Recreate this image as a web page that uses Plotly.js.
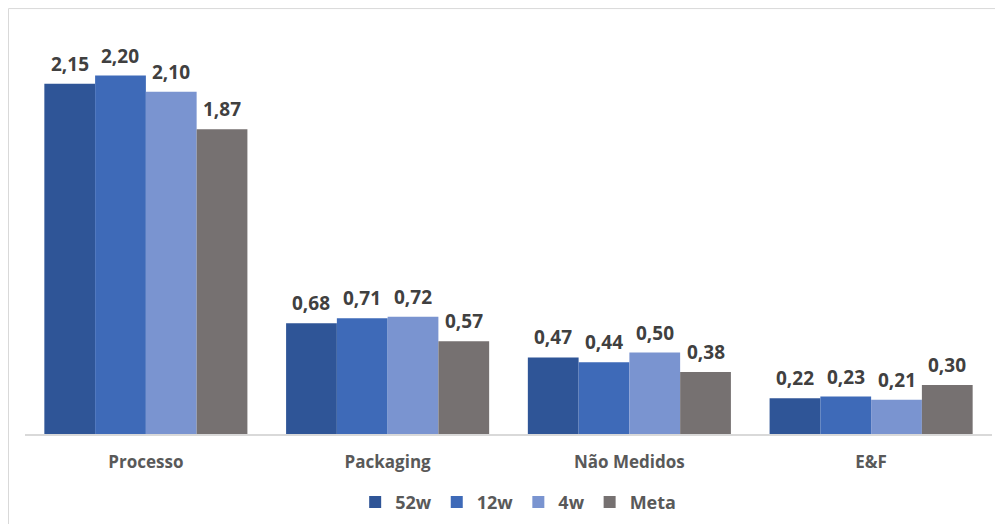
<!DOCTYPE html>
<html>
<head>
<meta charset="utf-8">
<script src="https://cdn.plot.ly/plotly-3.0.1.min.js"></script>
<style>
  html, body { margin: 0; padding: 0; background: #ffffff; }
  #chart { width: 995px; height: 524px; }
</style>
</head>
<body>
<div id="chart"></div>
<script>
// Categories and series
const categories = ['Processo', 'Packaging', 'Não Medidos', 'E&F'];
const seriesNames = ['52w', '12w', '4w', 'Meta'];
const values52w = [2.15, 0.68, 0.47, 0.22];
const values12w = [2.20, 0.71, 0.44, 0.23];
const values4w  = [2.10, 0.72, 0.50, 0.21];
const valuesMeta = [1.87, 0.57, 0.38, 0.30];

const seriesValues = [values52w, values12w, values4w, valuesMeta];
const seriesColors = ['#2F5597', '#3E6AB8', '#7A94D0', '#767171'];

// Page geometry
const W = 995, H = 524;
const M = { l: 25, r: 3, t: 18, b: 87 };
const plotW = W - M.l - M.r;
const plotH = H - M.t - M.b;
const bargap = 0.16;
const barW = (1 - bargap) / seriesValues.length;

const traces = seriesValues.map((vals, i) => ({
  type: 'bar',
  name: seriesNames[i],
  x: categories,
  y: vals,
  marker: { color: seriesColors[i], line: { width: 0 } },
  hoverinfo: 'skip'
}));

// Value labels above each bar, placed on the bar's own category slot
const fmt = v => v.toFixed(2).replace('.', ',');
const annotations = [];
seriesValues.forEach((vals, i) => {
  const offset = (i - (seriesValues.length - 1) / 2) * barW;
  vals.forEach((v, c) => {
    annotations.push({
      xref: 'x', yref: 'y',
      x: c + offset, y: v,
      text: fmt(v),
      showarrow: false,
      xanchor: 'center', yanchor: 'bottom',
      yshift: 5,
      font: { family: 'Open Sans, sans-serif', size: 19, color: '#404040', weight: 700 }
    });
  });
});

// Light frame along the top and left edges of the chart area
const px2x = p => (p - M.l) / plotW;
const py2y = p => (H - M.b - p) / plotH;
const frameColor = '#D9D9D9';
const shapes = [
  { type: 'line', xref: 'paper', yref: 'paper', x0: px2x(8.5), x1: px2x(W + 5), y0: py2y(8.5), y1: py2y(8.5),
    line: { color: frameColor, width: 1 } },
  { type: 'line', xref: 'paper', yref: 'paper', x0: px2x(8.5), x1: px2x(8.5), y0: py2y(8.5), y1: py2y(H + 5),
    line: { color: frameColor, width: 1 } }
];

const layout = {
  width: W, height: H,
  margin: M,
  paper_bgcolor: '#ffffff',
  plot_bgcolor: '#ffffff',
  barmode: 'group',
  bargap: bargap,
  bargroupgap: 0,
  separators: ',.',
  showlegend: true,
  legend: {
    orientation: 'h',
    x: 0.51, xanchor: 'center',
    y: -0.12, yanchor: 'top',
    font: { family: 'Open Sans, sans-serif', size: 18, color: '#595959', weight: 700 },
    itemwidth: 30,
    traceorder: 'normal'
  },
  xaxis: {
    type: 'category',
    showline: true,
    linecolor: '#D9D9D9',
    linewidth: 1.5,
    ticks: '',
    showgrid: false,
    zeroline: false,
    tickfont: { family: 'Open Sans, sans-serif', size: 17, color: '#595959', weight: 700 },
    ticklabelstandoff: 12
  },
  yaxis: {
    range: [0, plotH / 164.1],
    visible: false,
    showgrid: false,
    zeroline: false
  },
  annotations: annotations,
  shapes: shapes,
  font: { family: 'Open Sans, sans-serif' }
};

Plotly.newPlot('chart', traces, layout, { displayModeBar: false, staticPlot: true });
</script>
</body>
</html>
